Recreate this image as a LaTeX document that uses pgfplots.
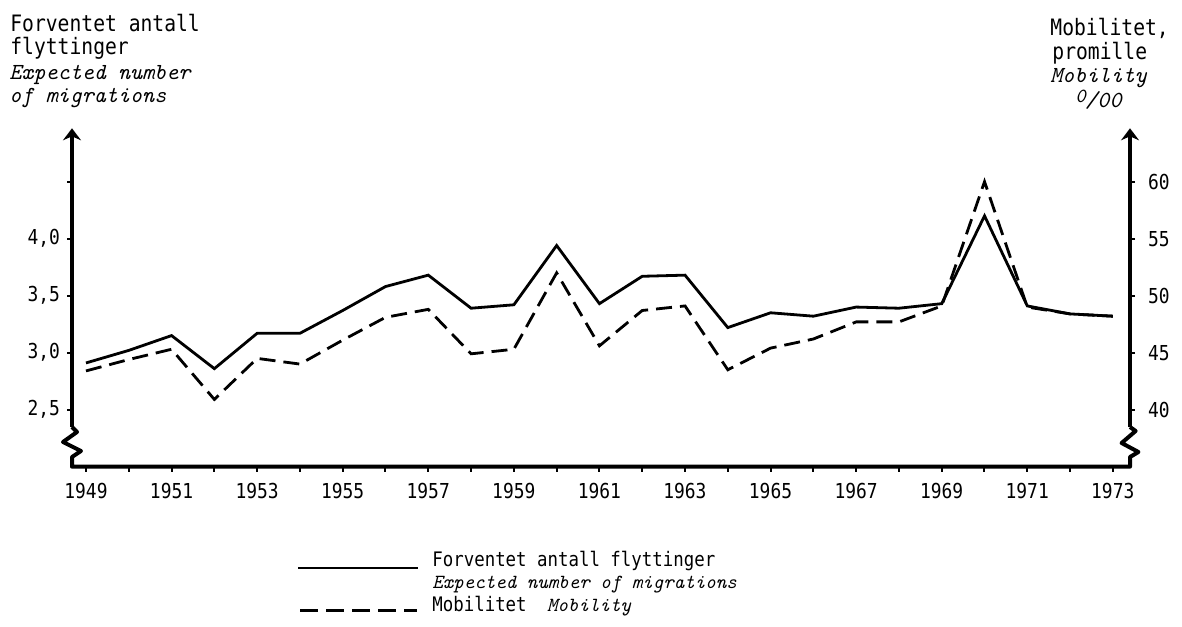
\documentclass[border=0pt]{standalone}
\usepackage{fontspec}
\usepackage{pgfplots}
\pgfplotsset{compat=1.18}
\usetikzlibrary{arrows.meta}
\newfontfamily\tw[FakeStretch=0.87]{DejaVu Sans Mono}
\newcommand\itw{\ttfamily\itshape}
\begin{document}
\begin{tikzpicture}
\useasboundingbox (-36pt,-79.65pt) rectangle (555pt,233.35pt);
\begin{axis}[
  scale only axis, width=529pt, height=169.2pt,
  xmin=1948.673, xmax=1973.40, ymin=2, ymax=4.968,
  axis line style={draw=none},
  tick align=outside, xtick pos=bottom, ytick pos=left,
  major tick length=2.5pt,
  tick style={line width=1pt, black},
  xtick={1949,...,1973},
  xticklabels={1949,{},1951,{},1953,{},1955,{},1957,{},1959,{},1961,{},1963,{},1965,{},1967,{},1969,{},1971,{},1973},
  xticklabel style={yshift=-2pt},
  ytick={2.5,3,3.5,4,4.5},
  yticklabels={{2,5},{3,0},{3,5},{4,0},{}},
  tick label style={font=\tw\fontsize{10.3}{12}\selectfont},
  clip=false,
]
\addplot[line width=1.4pt, black] coordinates {
(1949,2.91) (1950,3.02) (1951,3.15) (1952,2.86) (1953,3.17) (1954,3.17)
(1955,3.37) (1956,3.58) (1957,3.68) (1958,3.39) (1959,3.42) (1960,3.94)
(1961,3.43) (1962,3.67) (1963,3.68) (1964,3.22) (1965,3.35) (1966,3.32)
(1967,3.40) (1968,3.39) (1969,3.43) (1970,4.20) (1971,3.41) (1972,3.34)
(1973,3.32)};
\end{axis}
\begin{axis}[
  scale only axis, width=529pt, height=169.2pt,
  xmin=1948.673, xmax=1973.40, ymin=35, ymax=64.68,
  axis line style={draw=none},
  hide x axis,
  tick align=outside, ytick pos=right,
  major tick length=2.5pt,
  tick style={line width=1pt, black},
  ytick={40,45,50,55,60},
  yticklabels={40,45,50,55,60},
  yticklabel style={anchor=west, xshift=3pt},
  tick label style={font=\tw\fontsize{10.3}{12}\selectfont},
  clip=false,
]
\addplot[line width=1.4pt, black, dash pattern=on 8pt off 4pt] coordinates {
(1949,43.4) (1950,44.4) (1951,45.3) (1952,40.9) (1953,44.5) (1954,44.0)
(1955,46.1) (1956,48.1) (1957,48.8) (1958,44.9) (1959,45.3) (1960,52.0)
(1961,45.6) (1962,48.7) (1963,49.1) (1964,43.5) (1965,45.4) (1966,46.2)
(1967,47.7) (1968,47.7) (1969,49.1) (1970,60.0) (1971,49.0) (1972,48.4)
(1973,48.2)};
\end{axis}
% axis lines with breaks
\draw[line width=2pt, line join=round]
  (0,19.85pt) -- (2.5pt,17.35pt) -- (-4.5pt,12.35pt) -- (4.5pt,7.85pt) -- (0,4.85pt) -- (0,0)
  -- (529pt,0) -- (529pt,4.85pt) -- (533.2pt,7.35pt) -- (524.8pt,11.85pt) -- (531.8pt,17.85pt) -- (529pt,19.85pt);
\draw[line width=2pt, -{Stealth[length=6pt,width=9pt,inset=2pt]}] (0,19.85pt) -- (0,169.2pt);
\draw[line width=2pt, -{Stealth[length=6pt,width=9pt,inset=2pt]}] (529pt,19.85pt) -- (529pt,169.2pt);
% titles
\node[anchor=base west, inner sep=0, font=\tw\fontsize{11.3}{13}\selectfont] at (-31pt,217.5pt) {Forventet antall};
\node[anchor=base west, inner sep=0, font=\tw\fontsize{11.3}{13}\selectfont] at (-31pt,205.85pt) {flyttinger};
\node[anchor=base west, inner sep=0, font=\itw\fontsize{11.5}{13}\selectfont] at (-31.5pt,193.35pt) {Expected number};
\node[anchor=base west, inner sep=0, font=\itw\fontsize{11.5}{13}\selectfont] at (-31.5pt,181.85pt) {of migrations};
\node[anchor=base west, inner sep=0, font=\tw\fontsize{11.3}{13}\selectfont] at (489pt,215.35pt) {Mobilitet,};
\node[anchor=base west, inner sep=0, font=\tw\fontsize{11.3}{13}\selectfont] at (490pt,203.35pt) {promille};
\node[anchor=base west, inner sep=0, font=\itw\fontsize{11.5}{13}\selectfont] at (489pt,191.85pt) {Mobility};
\node[anchor=base west, inner sep=0, font=\itw\fontsize{10}{12}\selectfont] at (501.5pt,182.3pt) {0};
\node[anchor=base west, inner sep=0, font=\itw\fontsize{11.5}{13}\selectfont] at (506.5pt,179.6pt) {/00};
% legend
\draw[line width=1.4pt] (113pt,-50.65pt) -- (173pt,-50.65pt);
\draw[line width=1.4pt, dash pattern=on 9pt off 4pt] (114pt,-72pt) -- (172.5pt,-72pt);
\node[anchor=base west, inner sep=0, font=\tw\fontsize{10}{12}\selectfont] at (180pt,-50pt) {Forventet antall flyttinger};
\node[anchor=base west, inner sep=0, font=\itw\fontsize{10}{12}\selectfont] at (180pt,-60.65pt) {Expected number of migrations};
\node[anchor=base west, inner sep=0, font=\tw\fontsize{10}{12}\selectfont] at (180pt,-72.5pt) {Mobilitet};
\node[anchor=base west, inner sep=0, font=\itw\fontsize{10}{12}\selectfont] at (237.3pt,-72.5pt) {Mobility};
\end{tikzpicture}
\end{document}
